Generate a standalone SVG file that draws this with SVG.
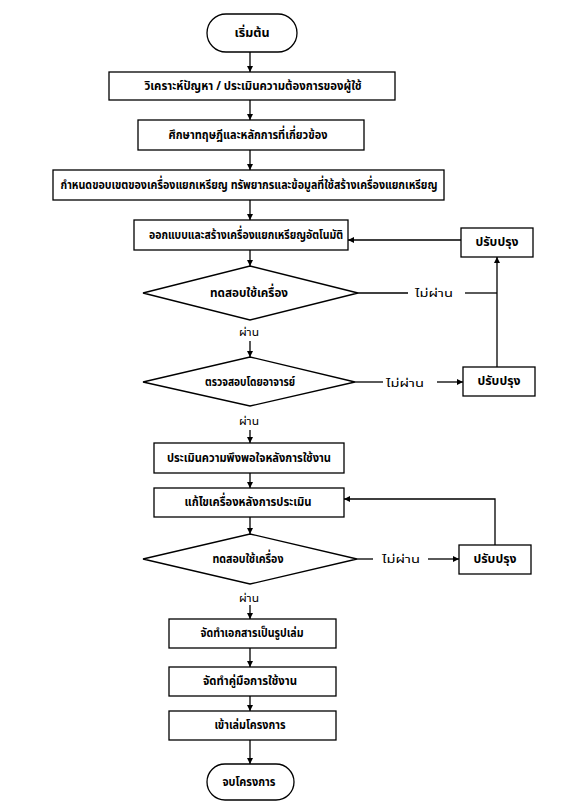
<svg xmlns="http://www.w3.org/2000/svg" width="585" height="812" viewBox="0 0 585 812">
<style>
.b{fill:#fff;stroke:#000;stroke-width:1.3}
.c{fill:none;stroke:#000;stroke-width:1.3}
.t{font-family:"Noto Sans Thai","Noto Sans","DejaVu Sans",sans-serif;font-size:13px;font-weight:bold;text-anchor:middle;dominant-baseline:central;fill:#000}
.s{font-family:"Noto Sans Thai","Noto Sans","DejaVu Sans",sans-serif;font-size:11px;text-anchor:middle;dominant-baseline:central;fill:#000}
</style>
<defs>
<marker id="a" viewBox="0 0 10 10" refX="10" refY="5" markerWidth="6" markerHeight="6" orient="auto" markerUnits="userSpaceOnUse">
<path d="M0,0 L10,5 L0,10 z" fill="#000"/>
</marker>
</defs>
<rect width="585" height="812" fill="#fff"/>
<g id="connectors">
<path class="c" d="M250,52 V72" marker-end="url(#a)"/>
<path class="c" d="M250,100 V120" marker-end="url(#a)"/>
<path class="c" d="M250,150 V170" marker-end="url(#a)"/>
<path class="c" d="M250,200 V220" marker-end="url(#a)"/>
<path class="c" d="M250,250 V266" marker-end="url(#a)"/>
<path class="c" d="M358,293 H408"/>
<path class="c" d="M465,293 H497"/>
<path class="c" d="M497,367 V257" marker-end="url(#a)"/>
<path class="c" d="M461,240 H348" marker-end="url(#a)"/>
<path class="c" d="M250,341 V357" marker-end="url(#a)"/>
<path class="c" d="M355,382 H383"/>
<path class="c" d="M437,382 H463" marker-end="url(#a)"/>
<path class="c" d="M250,430 V443" marker-end="url(#a)"/>
<path class="c" d="M250,473 V488" marker-end="url(#a)"/>
<path class="c" d="M250,517 V534" marker-end="url(#a)"/>
<path class="c" d="M357,559 H373"/>
<path class="c" d="M428,559 H459" marker-end="url(#a)"/>
<path class="c" d="M495,545 V499 H344" marker-end="url(#a)"/>
<path class="c" d="M250,605 V619" marker-end="url(#a)"/>
<path class="c" d="M250,648 V667" marker-end="url(#a)"/>
<path class="c" d="M250,696 V711" marker-end="url(#a)"/>
<path class="c" d="M250,740 V764" marker-end="url(#a)"/>
</g>
<g id="start"><rect class="b" x="207" y="14" width="90" height="38" rx="19"/><text class="t" x="252" y="33" textLength="35" lengthAdjust="spacingAndGlyphs">เริ่มต้น</text></g>
<g id="n1"><rect class="b" x="109" y="72" width="286" height="28"/><text class="t" x="253" y="86" textLength="217" lengthAdjust="spacingAndGlyphs">วิเคราะห์ปัญหา / ประเมินความต้องการของผู้ใช้</text></g>
<g id="n2"><rect class="b" x="138" y="120" width="226" height="30"/><text class="t" x="248" y="135" textLength="159" lengthAdjust="spacingAndGlyphs">ศึกษาทฤษฎีและหลักการที่เกี่ยวข้อง</text></g>
<g id="n3"><rect class="b" x="53" y="170" width="391" height="30"/><text class="t" x="249" y="185" textLength="377" lengthAdjust="spacingAndGlyphs">กำหนดขอบเขตของเครื่องแยกเหรียญ ทรัพยากรและข้อมูลที่ใช้สร้างเครื่องแยกเหรียญ</text></g>
<g id="n4"><rect class="b" x="134" y="220" width="214" height="30"/><text class="t" x="246" y="235" textLength="194" lengthAdjust="spacingAndGlyphs">ออกแบบและสร้างเครื่องแยกเหรียญอัตโนมัติ</text></g>
<g id="imp1"><rect class="b" x="461" y="228" width="72" height="29"/><text class="t" x="497" y="242" textLength="43" lengthAdjust="spacingAndGlyphs">ปรับปรุง</text></g>
<g id="d1"><polygon class="b" points="250,266 358,293 250,320 143,293"/><text class="t" x="249" y="293" textLength="78" lengthAdjust="spacingAndGlyphs">ทดสอบใช้เครื่อง</text></g>
<g id="l1"><text class="s" x="434" y="293" textLength="38" lengthAdjust="spacingAndGlyphs">ไม่ผ่าน</text></g>
<g id="l2"><text class="s" x="249" y="332" textLength="20" lengthAdjust="spacingAndGlyphs">ผ่าน</text></g>
<g id="d2"><polygon class="b" points="250,357 355,382 250,406 143,382"/><text class="t" x="250" y="382" textLength="90" lengthAdjust="spacingAndGlyphs">ตรวจสอบโดยอาจารย์</text></g>
<g id="l3"><text class="s" x="405" y="383" textLength="38" lengthAdjust="spacingAndGlyphs">ไม่ผ่าน</text></g>
<g id="imp2"><rect class="b" x="463" y="367" width="72" height="29"/><text class="t" x="499" y="381" textLength="43" lengthAdjust="spacingAndGlyphs">ปรับปรุง</text></g>
<g id="l4"><text class="s" x="249" y="421" textLength="20" lengthAdjust="spacingAndGlyphs">ผ่าน</text></g>
<g id="n5"><rect class="b" x="154" y="443" width="190" height="30"/><text class="t" x="249" y="458" textLength="164" lengthAdjust="spacingAndGlyphs">ประเมินความพึงพอใจหลังการใช้งาน</text></g>
<g id="n6"><rect class="b" x="154" y="488" width="190" height="29"/><text class="t" x="248" y="502" textLength="127" lengthAdjust="spacingAndGlyphs">แก้ไขเครื่องหลังการประเมิน</text></g>
<g id="d3"><polygon class="b" points="250,534 357,559 250,584 143,559"/><text class="t" x="248" y="559" textLength="71" lengthAdjust="spacingAndGlyphs">ทดสอบใช้เครื่อง</text></g>
<g id="l5"><text class="s" x="401" y="559" textLength="38" lengthAdjust="spacingAndGlyphs">ไม่ผ่าน</text></g>
<g id="imp3"><rect class="b" x="459" y="545" width="72" height="29"/><text class="t" x="495" y="559" textLength="43" lengthAdjust="spacingAndGlyphs">ปรับปรุง</text></g>
<g id="l6"><text class="s" x="249" y="598" textLength="20" lengthAdjust="spacingAndGlyphs">ผ่าน</text></g>
<g id="n7"><rect class="b" x="169" y="619" width="167" height="29"/><text class="t" x="252" y="633" textLength="103" lengthAdjust="spacingAndGlyphs">จัดทำเอกสารเป็นรูปเล่ม</text></g>
<g id="n8"><rect class="b" x="169" y="667" width="167" height="29"/><text class="t" x="250" y="681" textLength="94" lengthAdjust="spacingAndGlyphs">จัดทำคู่มือการใช้งาน</text></g>
<g id="n9"><rect class="b" x="169" y="711" width="167" height="29"/><text class="t" x="250" y="725" textLength="71" lengthAdjust="spacingAndGlyphs">เข้าเล่มโครงการ</text></g>
<g id="end"><rect class="b" x="207" y="764" width="87" height="36" rx="18"/><text class="t" x="249" y="782" textLength="53" lengthAdjust="spacingAndGlyphs">จบโครงการ</text></g>
</svg>
